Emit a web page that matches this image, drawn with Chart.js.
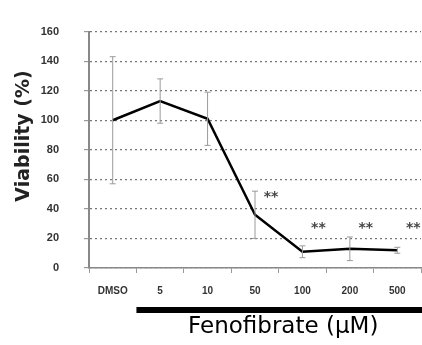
<!DOCTYPE html>
<html>
<head>
<meta charset="utf-8">
<script src="https://cdn.jsdelivr.net/npm/chart.js@4"></script>
<style>
  html, body { margin: 0; padding: 0; background: #fff; }
  #wrap { width: 422px; height: 345px; }
</style>
</head>
<body>
<div id="wrap"><canvas id="viabilityChart" width="422" height="345"></canvas></div>
<script>
const categories = ['DMSO', '5', '10', '50', '100', '200', '500'];
const viability = [100, 113, 101, 36, 11, 13, 12];
const errors = [43, 15, 18, 16, 4, 8, 2];
const sigMarks = ['', '', '', '**', '**', '**', '**'];
const sigLevel = [null, null, null, 48, 27, 27, 27];
const yTicks = [0, 20, 40, 60, 80, 100, 120, 140, 160];
const yTitle = 'Viability (%)';
const groupLabel = 'Fenofibrate (\u00b5M)';

const errorBars = {
    id: 'errorBars',
    afterDatasetsDraw(chart) {
        const { ctx, scales: { x, y } } = chart;
        ctx.save();
        ctx.strokeStyle = '#9a9a9a';
        ctx.lineWidth = 1;
        viability.forEach((v, i) => {
            const px = x.getPixelForValue(i);
            const top = y.getPixelForValue(v + errors[i]);
            const bot = y.getPixelForValue(v - errors[i]);
            ctx.beginPath();
            ctx.moveTo(px, top); ctx.lineTo(px, bot);
            ctx.moveTo(px - 3, top); ctx.lineTo(px + 3, top);
            ctx.moveTo(px - 3, bot); ctx.lineTo(px + 3, bot);
            ctx.stroke();
        });
        // significance stars
        ctx.fillStyle = '#444';
        ctx.font = 'bold 14px "DejaVu Sans", sans-serif';
        ctx.textAlign = 'center';
        ctx.textBaseline = 'middle';
        sigMarks.forEach((m, i) => {
            if (!m) return;
            ctx.fillText(m, x.getPixelForValue(i) + 16, y.getPixelForValue(sigLevel[i]));
        });
        ctx.restore();
    }
};

const outerLabels = {
    id: 'outerLabels',
    afterDraw(chart) {
        const { ctx, scales: { x } } = chart;
        const half = (x.getPixelForValue(1) - x.getPixelForValue(0)) / 2;
        const left = x.getPixelForValue(1) - half;
        const right = chart.width;
        ctx.save();
        ctx.fillStyle = '#000';
        ctx.fillRect(left, 307, right - left, 6);
        ctx.font = '500 23px "DejaVu Sans", sans-serif';
        ctx.textAlign = 'center';
        ctx.textBaseline = 'middle';
        ctx.fillText(groupLabel, (left + right) / 2 + 4, 327);
        // y title
        ctx.translate(24, 136);
        ctx.rotate(-Math.PI / 2);
        ctx.fillStyle = '#222';
        ctx.font = 'bold 19px "DejaVu Sans", sans-serif';
        ctx.fillText(yTitle, 0, 0);
        ctx.restore();
    }
};

new Chart(document.getElementById('viabilityChart').getContext('2d'), {
    type: 'line',
    data: {
        labels: categories,
        datasets: [{
            data: viability,
            borderColor: '#000',
            borderWidth: 2.5,
            pointRadius: 0,
            tension: 0,
            fill: false
        }]
    },
    options: {
        responsive: false,
        animation: false,
        layout: { padding: { top: 19, right: 1, left: 0, bottom: 0 } },
        plugins: { legend: { display: false }, tooltip: { enabled: false } },
        scales: {
            x: {
                offset: true,
                afterFit: (scale) => { scale.height = 77; },
                grid: {
                    offset: true,
                    drawOnChartArea: false,
                    drawTicks: true,
                    tickLength: 5,
                    color: '#999'
                },
                border: { color: '#888', width: 1.5 },
                ticks: {
                    padding: 12,
                    color: '#333',
                    maxRotation: 0,
                    font: { family: '"Liberation Sans Narrow", "Liberation Sans", sans-serif', size: 10, weight: 'bold' }
                }
            },
            y: {
                min: 0,
                max: 160,
                afterFit: (scale) => { scale.width = 89; },
                afterBuildTicks: (scale) => { scale.ticks = yTicks.map((v) => ({ value: v })); },
                grid: {
                    color: '#777',
                    lineWidth: 1.2,
                    tickLength: 5,
                    tickColor: '#999'
                },
                border: { color: '#888', width: 2, dash: [2, 3] },
                ticks: {
                    padding: 25,
                    color: '#333',
                    font: { family: '"Liberation Sans Narrow", "Liberation Sans", sans-serif', size: 11, weight: 'bold' }
                }
            }
        }
    },
    plugins: [errorBars, outerLabels]
});
</script>
</body>
</html>
